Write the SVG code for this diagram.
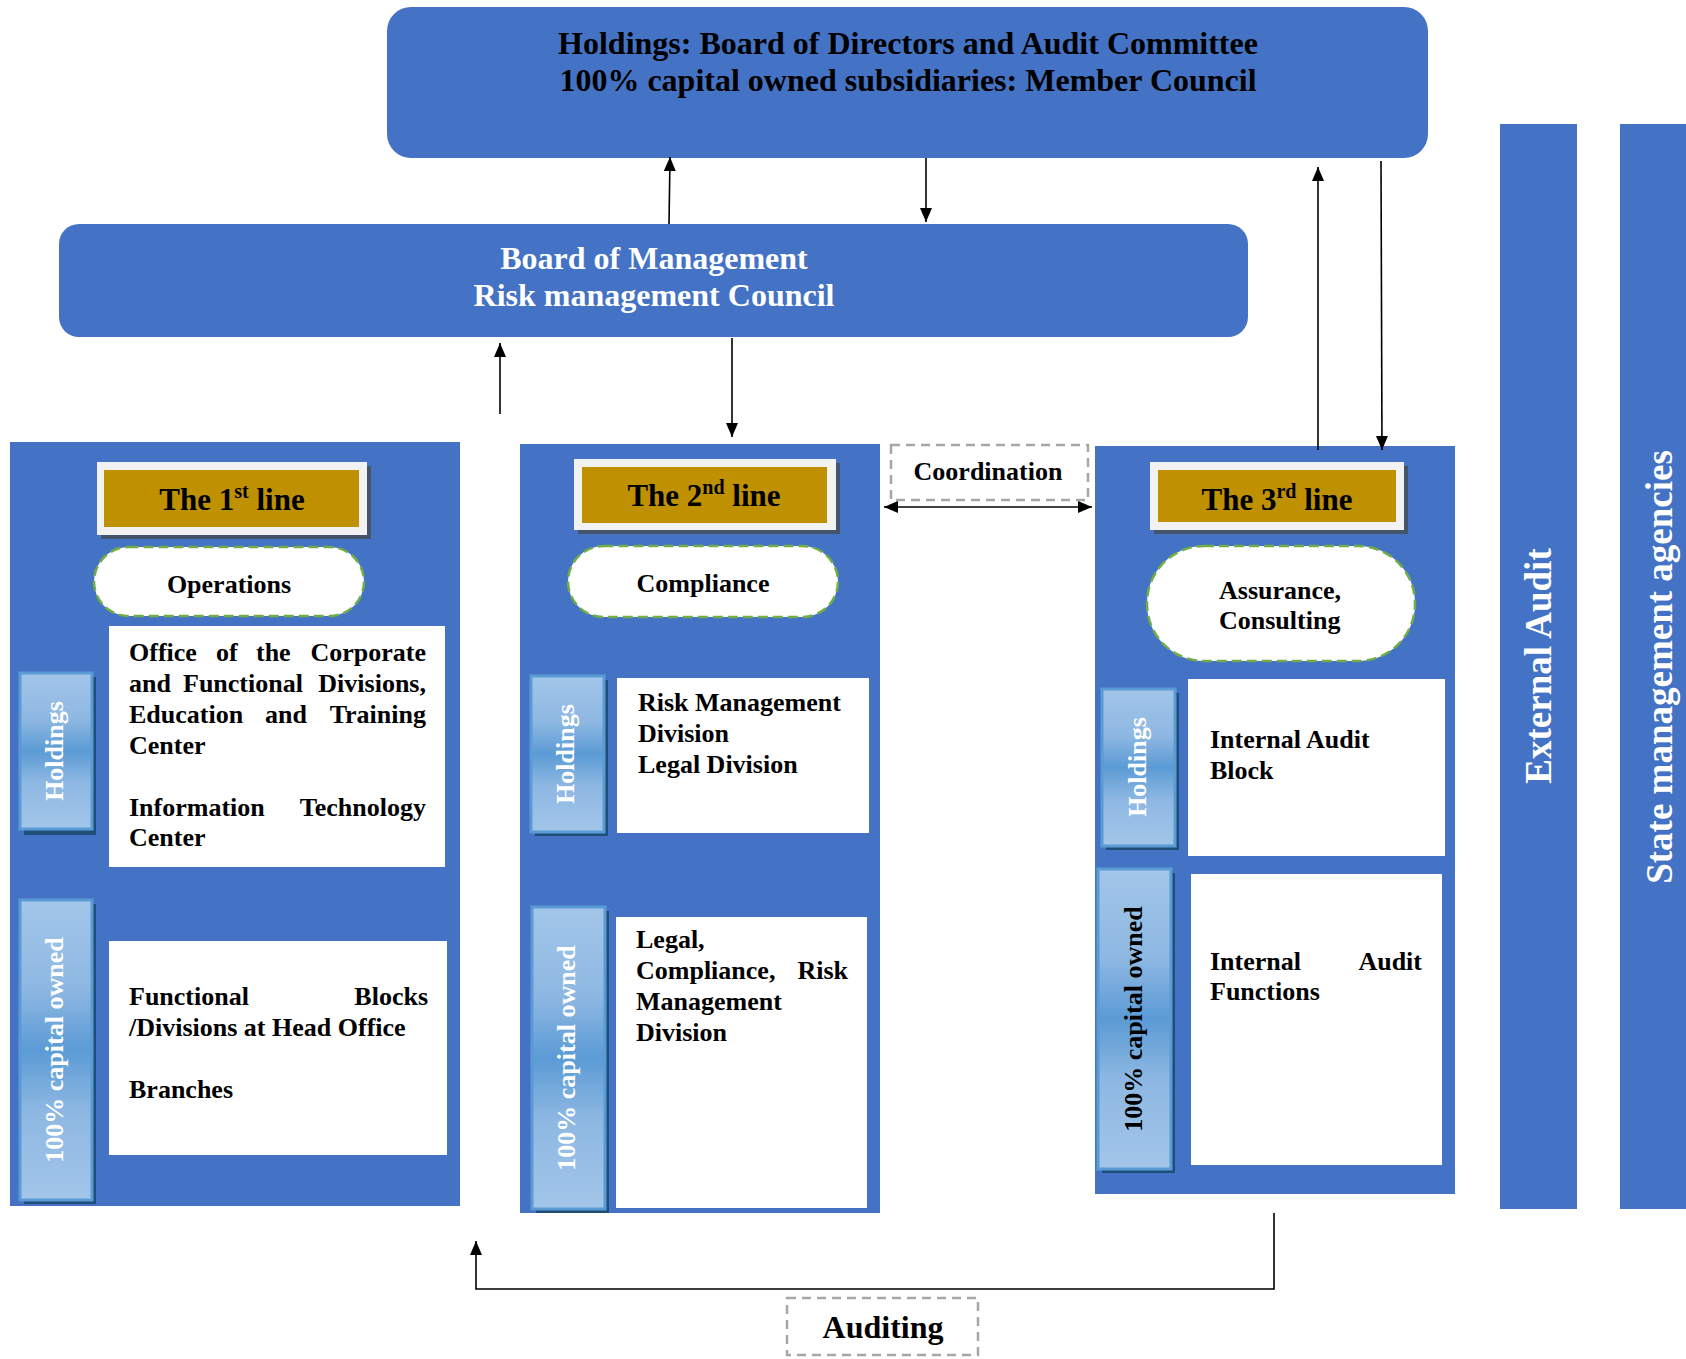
<svg xmlns="http://www.w3.org/2000/svg" width="1686" height="1359" viewBox="0 0 1686 1359">
<defs>
<style>
.blue{fill:#4472C4}
.t{font-family:"Liberation Serif","Times New Roman",serif;font-weight:bold}
.b26{font-size:26px;fill:#000}
.w{fill:#fff}
.frame{fill:#F2F2F2}
.fshadow{fill:#44546A}
.gold{fill:#BF9000}
.pill{fill:#fff;stroke:#70AD47;stroke-width:2.5;stroke-dasharray:10 5}
.box{fill:#fff}
.tab{fill:url(#tabg);stroke:#5B9BD5;stroke-width:3}
.tshadow{fill:#1F4E79}
.conn{stroke:#000;stroke-width:1.6;fill:none}
.dbox{fill:#fff;stroke:#A6A6A6;stroke-width:2.5;stroke-dasharray:9 6}
</style>
<linearGradient id="tabg" x1="0" y1="0" x2="0" y2="1">
<stop offset="0" stop-color="#A3C6E9"/>
<stop offset="0.3" stop-color="#8DB7E2"/>
<stop offset="0.5" stop-color="#5B9BD5"/>
<stop offset="0.7" stop-color="#8DB7E2"/>
<stop offset="1" stop-color="#A3C6E9"/>
</linearGradient>
<marker id="ah" markerUnits="userSpaceOnUse" markerWidth="16" markerHeight="14" refX="14" refY="6" orient="auto-start-reverse">
<path d="M0,0 L14,6 L0,12 Z" fill="#000"/>
</marker>
</defs>
<rect width="1686" height="1359" fill="#fff"/>

<g id="top-board">
<rect class="blue" x="387" y="7" width="1041" height="151" rx="24"/>
<text class="t" x="908" y="54" font-size="32" text-anchor="middle" fill="#000">Holdings: Board of Directors and Audit Committee</text>
<text class="t" x="908" y="91" font-size="32" text-anchor="middle" fill="#000">100% capital owned subsidiaries: Member Council</text>
</g>

<g id="board-management">
<rect class="blue" x="59" y="224" width="1189" height="113" rx="20"/>
<text class="t w" x="654" y="269" font-size="32" text-anchor="middle">Board of Management</text>
<text class="t w" x="654" y="306" font-size="32" text-anchor="middle">Risk management Council</text>
</g>

<g id="line1">
<rect class="blue" x="10" y="442" width="450" height="764"/>
<rect class="fshadow" x="101" y="466" width="270" height="73"/>
<rect class="frame" x="97" y="462" width="270" height="73"/>
<rect class="gold" x="104" y="470" width="255" height="57"/>
<text class="t" x="232" y="510" font-size="31" text-anchor="middle">The 1<tspan font-size="20" dy="-12">st</tspan><tspan dy="12"> line</tspan></text>
<rect class="pill" x="94" y="547" width="270" height="69" rx="34.5"/>
<text class="t b26" x="229" y="593" text-anchor="middle">Operations</text>
<rect class="tshadow" x="24" y="677" width="72" height="158"/>
<rect class="tab" x="20" y="673" width="72" height="156"/>
<text class="t w" font-size="26" text-anchor="middle" transform="translate(63,751) rotate(-90)">Holdings</text>
<rect class="box" x="109" y="626" width="336" height="241"/>
<g class="t b26">
<text x="129" y="661">Office</text><text x="216" y="661">of</text><text x="256" y="661">the</text><text x="426" y="661" text-anchor="end">Corporate</text>
<text x="129" y="692">and</text><text x="183" y="692">Functional</text><text x="426" y="692" text-anchor="end">Divisions,</text>
<text x="129" y="723">Education</text><text x="265" y="723">and</text><text x="426" y="723" text-anchor="end">Training</text>
<text x="129" y="754">Center</text>
<text x="129" y="816">Information</text><text x="426" y="816" text-anchor="end">Technology</text>
<text x="129" y="846">Center</text>
</g>
<rect class="tshadow" x="24" y="904" width="72" height="300"/>
<rect class="tab" x="20" y="900" width="72" height="300"/>
<text class="t w" font-size="26" text-anchor="middle" transform="translate(63,1050) rotate(-90)">100% capital owned</text>
<rect class="box" x="109" y="941" width="338" height="214"/>
<g class="t b26">
<text x="129" y="1005">Functional</text><text x="428" y="1005" text-anchor="end">Blocks</text>
<text x="129" y="1036">/Divisions at Head Office</text>
<text x="129" y="1098">Branches</text>
</g>
</g>

<g id="line2">
<rect class="blue" x="520" y="444" width="360" height="769"/>
<rect class="fshadow" x="578" y="463" width="262" height="71"/>
<rect class="frame" x="574" y="459" width="262" height="71"/>
<rect class="gold" x="582" y="467" width="245" height="56"/>
<text class="t" x="704" y="506" font-size="31" text-anchor="middle">The 2<tspan font-size="20" dy="-12">nd</tspan><tspan dy="12"> line</tspan></text>
<rect class="pill" x="568" y="546" width="270" height="71" rx="35.5"/>
<text class="t b26" x="703" y="592" text-anchor="middle">Compliance</text>
<rect class="tshadow" x="535" y="680" width="73" height="156"/>
<rect class="tab" x="531" y="676" width="73" height="156"/>
<text class="t w" font-size="26" text-anchor="middle" transform="translate(574,754) rotate(-90)">Holdings</text>
<rect class="box" x="617" y="678" width="252" height="155"/>
<g class="t b26">
<text x="638" y="711">Risk Management</text>
<text x="638" y="742">Division</text>
<text x="638" y="773">Legal Division</text>
</g>
<rect class="tshadow" x="536" y="911" width="73" height="302"/>
<rect class="tab" x="532" y="907" width="73" height="302"/>
<text class="t w" font-size="26" text-anchor="middle" transform="translate(575,1058) rotate(-90)">100% capital owned</text>
<rect class="box" x="616" y="917" width="251" height="291"/>
<g class="t b26">
<text x="636" y="948">Legal,</text>
<text x="636" y="979">Compliance,</text><text x="848" y="979" text-anchor="end">Risk</text>
<text x="636" y="1010">Management</text>
<text x="636" y="1041">Division</text>
</g>
</g>

<g id="line3">
<rect class="blue" x="1095" y="446" width="360" height="748"/>
<rect class="fshadow" x="1154" y="466" width="254" height="68"/>
<rect class="frame" x="1150" y="462" width="254" height="68"/>
<rect class="gold" x="1158" y="470" width="238" height="52"/>
<text class="t" x="1277" y="510" font-size="31" text-anchor="middle">The 3<tspan font-size="20" dy="-12">rd</tspan><tspan dy="12"> line</tspan></text>
<rect class="pill" x="1147" y="546" width="268" height="115" rx="57"/>
<text class="t b26" x="1219" y="599">Assurance,</text>
<text class="t b26" x="1219" y="629">Consulting</text>
<rect class="tshadow" x="1106" y="693" width="73" height="157"/>
<rect class="tab" x="1102" y="689" width="73" height="157"/>
<text class="t w" font-size="26" text-anchor="middle" transform="translate(1146,767) rotate(-90)">Holdings</text>
<rect class="box" x="1188" y="679" width="257" height="177"/>
<g class="t b26">
<text x="1210" y="748">Internal Audit</text>
<text x="1210" y="779">Block</text>
</g>
<rect class="tshadow" x="1102" y="873" width="73" height="300"/>
<rect class="tab" x="1098" y="869" width="73" height="300"/>
<text class="t b26" text-anchor="middle" transform="translate(1142,1019) rotate(-90)">100% capital owned</text>
<rect class="box" x="1191" y="874" width="251" height="291"/>
<g class="t b26">
<text x="1210" y="970">Internal</text><text x="1422" y="970" text-anchor="end">Audit</text>
<text x="1210" y="1000">Functions</text>
</g>
</g>

<g id="external-audit">
<rect class="blue" x="1500" y="124" width="77" height="1085"/>
<text class="t w" font-size="37" text-anchor="middle" transform="translate(1551,666) rotate(-90)">External Audit</text>
</g>

<g id="state-agencies">
<rect class="blue" x="1620" y="124" width="70" height="1085"/>
<text class="t w" font-size="37" text-anchor="middle" transform="translate(1672,667) rotate(-90)">State management agencies</text>
</g>

<g id="coordination">
<rect class="dbox" x="891" y="445" width="197" height="55"/>
<text class="t b26" x="988" y="480" text-anchor="middle">Coordination</text>
</g>

<g id="auditing">
<rect class="dbox" x="787" y="1298" width="191" height="57"/>
<text class="t" x="883" y="1338" font-size="32" text-anchor="middle">Auditing</text>
</g>

<g id="connectors">
<line class="conn" x1="669" y1="224" x2="670" y2="157" marker-end="url(#ah)"/>
<line class="conn" x1="926" y1="158" x2="926" y2="222" marker-end="url(#ah)"/>
<line class="conn" x1="500" y1="414" x2="500" y2="343" marker-end="url(#ah)"/>
<line class="conn" x1="732" y1="338" x2="732" y2="437" marker-end="url(#ah)"/>
<line class="conn" x1="1318" y1="450" x2="1318" y2="167" marker-end="url(#ah)"/>
<line class="conn" x1="1381" y1="161" x2="1382" y2="450" marker-end="url(#ah)"/>
<line class="conn" x1="884" y1="507" x2="1092" y2="507" marker-start="url(#ah)" marker-end="url(#ah)" stroke-width="2.5"/>
<path class="conn" d="M1274,1213 L1274,1289 L476,1289 L476,1241" marker-end="url(#ah)" stroke-width="2"/>
</g>
</svg>
